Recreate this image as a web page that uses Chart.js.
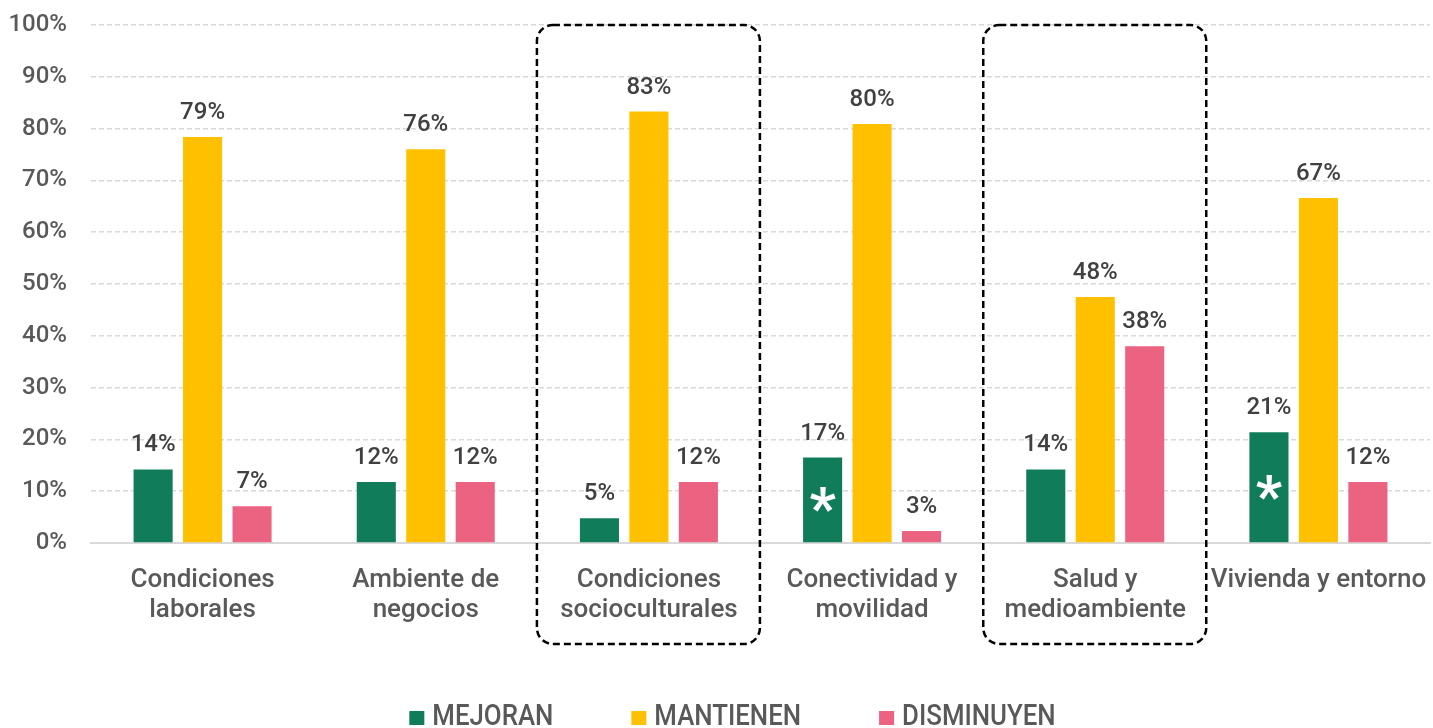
<!DOCTYPE html>
<html><head><meta charset="utf-8">
<script src="https://cdn.jsdelivr.net/npm/chart.js@4.4.1/dist/chart.umd.min.js"></script>
<style>html,body{margin:0;padding:0;background:#fff;}#wrap{width:1433px;height:728px;position:relative;}</style>
</head><body><div id="wrap"><canvas id="c"></canvas></div>
<script>
// ---- DATA ----
const categories = [['Condiciones','laborales'],['Ambiente de','negocios'],['Condiciones','socioculturales'],['Conectividad y','movilidad'],['Salud y','medioambiente'],'Vivienda y entorno'];
const seriesNames = ['MEJORAN','MANTIENEN','DISMINUYEN'];
const mejoran    = [14.2, 11.8, 4.8, 16.5, 14.2, 21.4];
const mantienen  = [78.4, 76.0, 83.3, 80.9, 47.5, 66.6];
const disminuyen = [7.1, 11.8, 11.8, 2.3, 38.0, 11.8];
const mejoranLabels    = ['14%','12%','5%','17%','14%','21%'];
const mantienenLabels  = ['79%','76%','83%','80%','48%','67%'];
const disminuyenLabels = ['7%','12%','12%','3%','38%','12%'];
const asteriscos = [false,false,false,true,false,true];   // marked MEJORAN bars
const destacadas = [false,false,true,false,true,false];   // categories framed with dashed box
const yTickLabels = ['0%','10%','20%','30%','40%','50%','60%','70%','80%','90%','100%'];

// ---- STYLE ----
const colors = ['#107C5A','#FFC000','#EC6281'];
const FONT = 'Roboto';
const allLabels = [mejoranLabels, mantienenLabels, disminuyenLabels];

const dataLabelPlugin = {
  id: 'dataLabels',
  afterDatasetsDraw(chart) {
    const ctx = chart.ctx;
    ctx.save();
    ctx.font = '500 24px ' + FONT;
    ctx.fillStyle = '#404040';
    ctx.textAlign = 'center';
    ctx.textBaseline = 'alphabetic';
    chart.data.datasets.forEach((ds, di) => {
      const meta = chart.getDatasetMeta(di);
      meta.data.forEach((bar, i) => {
        ctx.fillText(allLabels[di][i], bar.x, bar.y - 18);
      });
    });
    const meta0 = chart.getDatasetMeta(0);
    ctx.font = 'bold 58px ' + FONT;
    ctx.fillStyle = '#ffffff';
    meta0.data.forEach((bar, i) => {
      if (!asteriscos[i]) return;
      const m = ctx.measureText('*');
      const cy = (bar.y + bar.base) / 2;
      const yb = cy + (m.actualBoundingBoxAscent - m.actualBoundingBoxDescent) / 2;
      ctx.fillText('*', bar.x, yb);
    });
    ctx.restore();
  }
};

const boxPlugin = {
  id: 'boxes',
  afterDraw(chart) {
    const ctx = chart.ctx;
    const xs = chart.scales.x;
    const top = chart.chartArea.top;
    const bottom = 644;
    ctx.save();
    ctx.strokeStyle = '#000';
    ctx.lineWidth = 2.5;
    ctx.setLineDash([7,4]);
    destacadas.forEach((d, i) => {
      if (!d) return;
      const c = xs.getPixelForValue(i);
      const l = c - 112, r = c + 111;
      ctx.beginPath();
      ctx.roundRect(l, top, r - l, bottom - top, 16);
      ctx.stroke();
    });
    ctx.restore();
  }
};

const legendPlugin = {
  id: 'customLegend',
  afterDraw(chart) {
    const ctx = chart.ctx;
    ctx.save();
    ctx.font = '500 29px ' + FONT;
    ctx.textBaseline = 'alphabetic';
    ctx.textAlign = 'left';
    const box = 15, gapBT = 8, gapItem = 78;
    const w0 = ctx.measureText('MEJORAN').width;
    const sx = 121 / w0;
    const widths = chart.data.datasets.map(ds => ctx.measureText(ds.label).width * sx);
    let total = 0;
    widths.forEach((w, i) => { total += box + gapBT + w + (i < widths.length - 1 ? gapItem : 0); });
    let x = 732.5 - total / 2;
    const base = 725;
    chart.data.datasets.forEach((ds, i) => {
      ctx.fillStyle = ds.backgroundColor;
      ctx.fillRect(x, base - 14, box, 14);
      ctx.fillStyle = '#595959';
      ctx.save();
      ctx.translate(x + box + gapBT, base);
      ctx.scale(sx, 1);
      ctx.fillText(ds.label, 0, 0);
      ctx.restore();
      x += box + gapBT + widths[i] + gapItem;
    });
    ctx.restore();
  }
};

const seriesData = [mejoran, mantienen, disminuyen];
new Chart(document.getElementById('c'), {
  type: 'bar',
  data: {
    labels: categories,
    datasets: seriesNames.map((n, i) => ({
      label: n,
      data: seriesData[i],
      backgroundColor: colors[i],
      borderWidth: 0,
      categoryPercentage: 0.665,
      barPercentage: 0.79
    }))
  },
  options: {
    responsive: true,
    maintainAspectRatio: false,
    animation: false,
    layout: { autoPadding: false, padding: { top: 25, left: 10, right: 3, bottom: 105 } },
    plugins: { legend: { display: false }, tooltip: { enabled: false } },
    scales: {
      x: {
        grid: { display: false, drawTicks: false },
        border: { display: true, color: '#d9d9d9', width: 2 },
        ticks: { color: '#595959', font: { family: FONT, size: 26, weight: '500', lineHeight: 1.17 }, padding: 22, maxRotation: 0, autoSkip: false },
        afterFit(s) { s.height = 80; s.paddingLeft = 0; s.paddingRight = 0; }
      },
      y: {
        min: 0, max: 100,
        grid: { color: '#d9d9d9', lineWidth: 1.5, drawTicks: false },
        border: { display: false, dash: [5,3] },
        ticks: {
          stepSize: 10, padding: 24, color: '#595959',
          font: { family: FONT, size: 24, weight: '500' },
          callback: (v) => yTickLabels[Math.round(v / 10)]
        },
        afterFit(s) { s.width = 81; s.paddingTop = 0; s.paddingBottom = 0; }
      }
    }
  },
  plugins: [dataLabelPlugin, boxPlugin, legendPlugin]
});
</script></body></html>
